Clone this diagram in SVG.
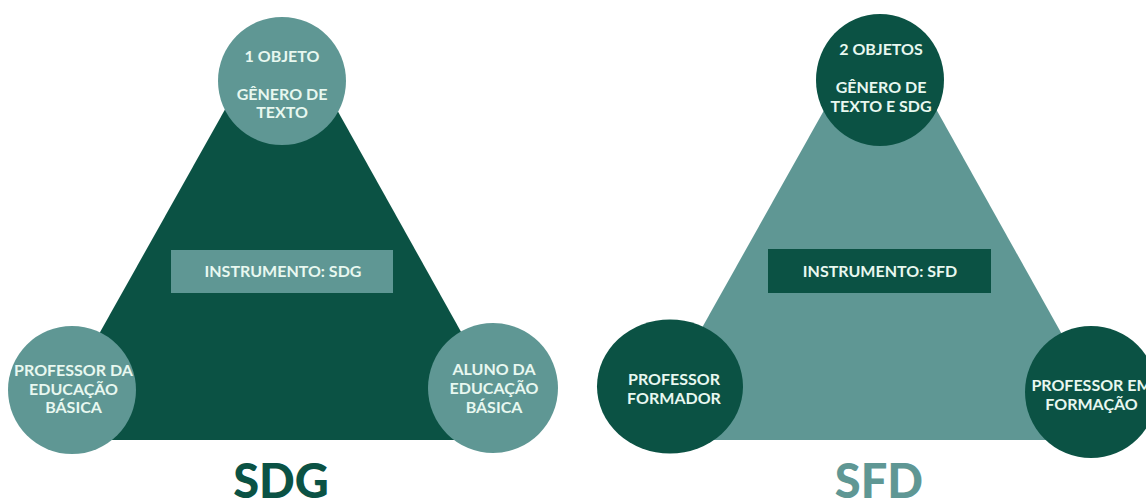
<svg xmlns="http://www.w3.org/2000/svg" width="1146" height="502" viewBox="0 0 1146 502">
<style>
.dark{fill:#0b5244}
.teal{fill:#5f9794}
.t{font-family:Lato,"Open Sans","Liberation Sans",sans-serif;font-weight:700;font-size:16px;fill:#e8f8f0;text-anchor:middle}
.title{font-family:Lato,"Open Sans","Liberation Sans",sans-serif;font-weight:900;font-size:47px;text-anchor:middle}
</style>
<rect width="1146" height="502" fill="#ffffff"/>
<g id="connectors">
<polygon id="sdg-triangle" class="dark" points="264,40 298,40 521.5,440 39.5,440"/>
<polygon id="sfd-triangle" class="teal" points="863.5,40 897.5,40 1121,440 639,440"/>
</g>
<g id="sdg-instrumento">
<rect class="teal" x="171" y="250" width="222" height="43"/>
<text class="t" x="283" y="277">INSTRUMENTO: SDG</text>
</g>
<g id="sdg-objeto">
<circle class="teal" cx="282" cy="81" r="64"/>
<text class="t" x="282" y="62">1 OBJETO</text>
<text class="t" x="282" y="100">GÊNERO DE</text>
<text class="t" x="282" y="118">TEXTO</text>
</g>
<g id="sdg-professor">
<circle class="teal" cx="72" cy="390" r="64"/>
<text class="t" x="73.5" y="376">PROFESSOR DA</text>
<text class="t" x="73.5" y="395">EDUCAÇÃO</text>
<text class="t" x="73.5" y="413">BÁSICA</text>
</g>
<g id="sdg-aluno">
<circle class="teal" cx="493" cy="388" r="65"/>
<text class="t" x="494" y="375">ALUNO DA</text>
<text class="t" x="494" y="394">EDUCAÇÃO</text>
<text class="t" x="494" y="413">BÁSICA</text>
</g>
<g id="sdg-title">
<text class="title dark" x="281" y="498">SDG</text>
</g>
<g id="sfd-instrumento">
<rect class="dark" x="768" y="249" width="223" height="44"/>
<text class="t" x="880" y="277">INSTRUMENTO: SFD</text>
</g>
<g id="sfd-objetos">
<ellipse class="dark" cx="880" cy="80" rx="64" ry="66"/>
<text class="t" x="881" y="55">2 OBJETOS</text>
<text class="t" x="881" y="93">GÊNERO DE</text>
<text class="t" x="881" y="112">TEXTO E SDG</text>
</g>
<g id="sfd-formador">
<ellipse class="dark" cx="670" cy="386.5" rx="73" ry="67"/>
<text class="t" x="674" y="385">PROFESSOR</text>
<text class="t" x="674" y="404">FORMADOR</text>
</g>
<g id="sfd-formacao">
<circle class="dark" cx="1091" cy="392" r="66"/>
<text class="t" x="1091.5" y="391">PROFESSOR EM</text>
<text class="t" x="1091.5" y="410">FORMAÇÃO</text>
</g>
<g id="sfd-title">
<text class="title teal" x="879" y="498">SFD</text>
</g>
</svg>
